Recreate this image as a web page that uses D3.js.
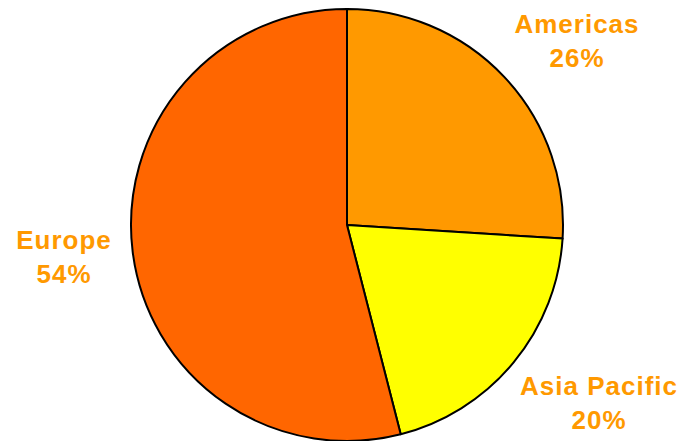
<!DOCTYPE html>
<html lang="en">
	<head>
		<meta charset="UTF-8" />
		<title>Regions</title>
		<script src="https://d3js.org/d3.v7.min.js"></script>
		<style>
			body { margin: 0; background: #fff; }
			svg { display: block; }
			.label {
				font-family: "Liberation Sans", Arial, sans-serif;
				font-weight: bold;
				font-size: 26px;
				letter-spacing: 1px;
				fill: #ff9900;
			}
		</style>
	</head>
	<body>
		<svg></svg>
		<script>
			// Data
			const regions = ["Americas", "Asia Pacific", "Europe"];
			const shares = [26, 20, 54];
			const colors = ["#ff9900", "#ffff00", "#ff6600"];
			// label anchor (centre x, first baseline y) for each slice
			const labelPos = [[577, 33], [599, 395], [64, 249]];

			const W = 679, H = 441;
			const cx = 347, cy = 225, r = 216;

			const svg = d3.select("svg").attr("width", W).attr("height", H);

			const pie = d3.pie().sort(null).value((d, i) => shares[i]);
			const arc = d3.arc().innerRadius(0).outerRadius(r);

			const g = svg.append("g").attr("transform", `translate(${cx},${cy})`);
			g.selectAll("path")
				.data(pie(regions))
				.enter()
				.append("path")
				.attr("d", arc)
				.attr("fill", (d, i) => colors[i])
				.attr("stroke", "#000")
				.attr("stroke-width", 2)
				.attr("stroke-linejoin", "round");

			// Labels
			const labels = svg.selectAll(".label")
				.data(regions)
				.enter()
				.append("text")
				.classed("label", true)
				.attr("text-anchor", "middle")
				.attr("x", (d, i) => labelPos[i][0])
				.attr("y", (d, i) => labelPos[i][1]);
			labels.append("tspan").text((d) => d);
			labels.append("tspan")
				.attr("x", (d, i) => labelPos[i][0])
				.attr("dy", 34)
				.text((d, i) => shares[i] + "%");
		</script>
	</body>
</html>
